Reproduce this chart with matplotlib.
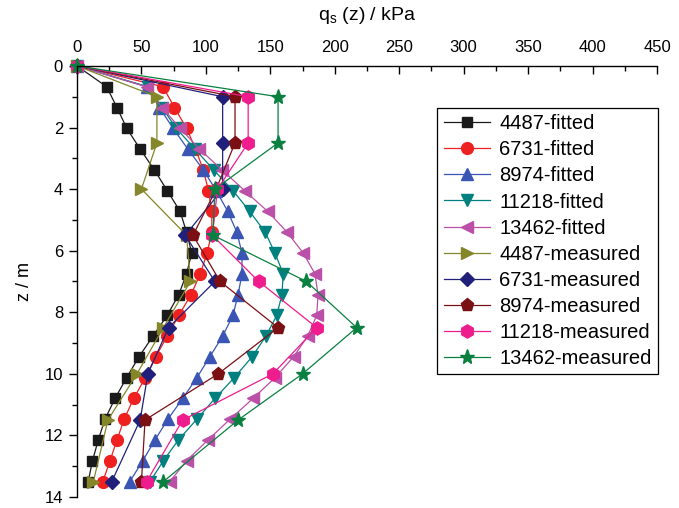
import matplotlib
matplotlib.use("Agg")
import matplotlib.pyplot as plt
from matplotlib.ticker import MultipleLocator

plt.rcParams['font.family'] = ['Liberation Sans', 'DejaVu Sans']

# Depths (m) of the fitted profiles and of the measured profiles
z_fitted = [0, 0.675, 1.35, 2.025, 2.7, 3.375, 4.05, 4.725, 5.4, 6.075, 6.75,
            7.425, 8.1, 8.775, 9.45, 10.125, 10.8, 11.475, 12.15, 12.825, 13.5]
z_measured = [0, 1, 2.5, 4, 5.5, 7, 8.5, 10, 11.5, 13.5]

# Unit side friction q_s(z) in kPa
fitted_4487 = [0, 23, 31, 38.6, 49, 60, 70, 80, 85, 89, 85, 79, 70, 59, 48,
               38.5, 29.5, 21.7, 16.5, 12, 8.7]
fitted_6731 = [0, 66.7, 75.6, 85, 92, 98, 102, 104.6, 104.6, 101, 95.6, 88.6,
               79, 70, 61, 53, 44, 36.6, 31, 25.6, 20]
fitted_8974 = [0, 54, 64, 74.5, 86, 98, 108, 117, 124, 128, 128, 125, 121,
               113, 103, 93, 82, 70.5, 60.5, 51, 41]
fitted_11218 = [0, 55, 66, 77, 91.5, 106, 121, 134, 146, 153.6, 160, 159, 155,
                146.6, 135.8, 122, 107, 93, 78.6, 67, 56.7]
fitted_13462 = [0, 54, 66, 80, 95, 112.5, 130, 148, 163, 175.5, 184.6, 187,
                186, 179, 168, 153.6, 136.6, 118.7, 101.6, 85, 72]

measured_4487 = [0, 62, 62, 50, 85, 88, 67, 46.5, 24, 12.7]
measured_6731 = [0, 113, 113, 113, 84, 107, 71, 55, 49, 27]
measured_8974 = [0, 122.6, 122.6, 108, 90, 111, 156, 109.6, 52.8, 50]
measured_11218 = [0, 132.8, 132.8, 109, 105, 141, 186, 152, 82, 54]
measured_13462 = [0, 156, 156, 107, 105.5, 178, 217, 175, 125, 67]

labels = ['4487-fitted', '6731-fitted', '8974-fitted', '11218-fitted',
          '13462-fitted', '4487-measured', '6731-measured', '8974-measured',
          '11218-measured', '13462-measured']

series = [
    (fitted_4487, z_fitted, '#1a1a1a', 's', 7.5),
    (fitted_6731, z_fitted, '#ee2020', 'o', 8.5),
    (fitted_8974, z_fitted, '#3a55b4', '^', 9),
    (fitted_11218, z_fitted, '#00807f', 'v', 9),
    (fitted_13462, z_fitted, '#bb50a8', '<', 9),
    (measured_4487, z_measured, '#85852a', '>', 9),
    (measured_6731, z_measured, '#20207a', 'D', 7.5),
    (measured_8974, z_measured, '#7b1014', 'p', 9.5),
    (measured_11218, z_measured, '#ee1c8c', 'h', 9.5),
    (measured_13462, z_measured, '#0a8040', '*', 11),
]

fig = plt.figure(figsize=(6.79, 5.08), dpi=100)
ax = fig.add_axes([0.1134, 0.0217, 0.8542, 0.8485])

for (q, z, color, marker, ms), label in zip(series, labels):
    ax.plot(q, z, color=color, marker=marker, markersize=ms, linewidth=0.9,
            markeredgecolor=color, label=label, clip_on=False)

ax.set_xlim(0, 450)
ax.set_ylim(14, 0)

ax.xaxis.tick_top()
ax.xaxis.set_label_position('top')
ax.xaxis.set_major_locator(MultipleLocator(50))
ax.xaxis.set_minor_locator(MultipleLocator(25))
ax.yaxis.set_major_locator(MultipleLocator(2))
ax.yaxis.set_minor_locator(MultipleLocator(1))

ax.spines['right'].set_visible(False)
ax.spines['bottom'].set_visible(False)
for s in ('left', 'top'):
    ax.spines[s].set_linewidth(1.0)

ax.tick_params(axis='x', which='major', direction='in', length=6, width=1,
               labelsize=12, pad=8, top=True, bottom=False)
ax.tick_params(axis='x', which='minor', direction='in', length=3.5, width=1,
               top=True, bottom=False)
ax.tick_params(axis='y', which='major', direction='out', length=6, width=1,
               labelsize=12, pad=4)
ax.tick_params(axis='y', which='minor', direction='out', length=3.5, width=1)

ax.set_xlabel(r'q$_\mathregular{s}$ (z) / kPa', fontsize=14, labelpad=14)
ax.set_ylabel('z / m', fontsize=13, labelpad=8)

leg = ax.legend(loc='upper left', bbox_to_anchor=(0.621, 0.9026), fontsize=14.5,
                frameon=True, fancybox=False, shadow=False, framealpha=1,
                edgecolor='black', handlelength=2.3, handletextpad=0.45,
                labelspacing=0.35, borderpad=0.32, borderaxespad=0,
                numpoints=1)
leg.get_frame().set_linewidth(0.9)

fig.savefig('out.png', dpi=100)
